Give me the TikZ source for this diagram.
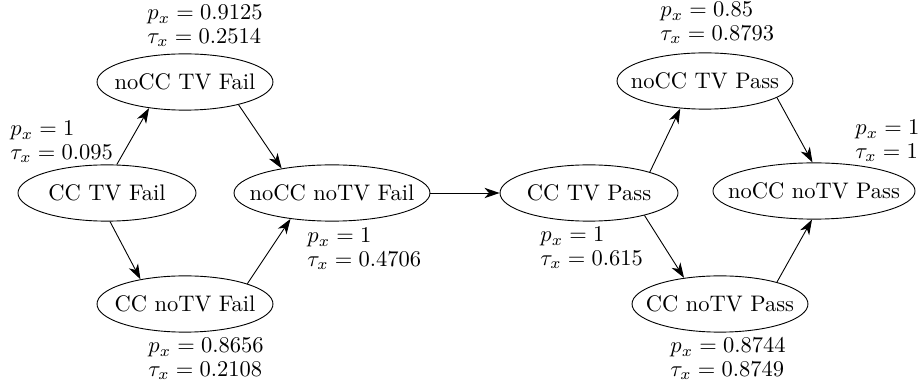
\documentclass[tikz,border=0pt]{standalone}
\usetikzlibrary{shapes.geometric,arrows.meta}
\newcommand\zerobox[1]{\makebox[0pt]{#1}}
\begin{document}
\begin{tikzpicture}[x=0.4444pt,y=-0.4444pt,
  state/.style={ellipse,draw,inner sep=0pt,minimum height=25pt,line width=0.4pt},
  lab/.style={anchor=west,align=left,inner sep=0pt},
  edge/.style={-{Stealth[length=6.7pt,width=4.6pt,inset=2pt]},line width=0.4pt}]
\useasboundingbox (0,0) rectangle (920,388);
% states
\node[state,minimum width=79.1pt] (ctf) at (107,193) {\zerobox{CC TV Fail}};
\node[state,minimum width=78.2pt] (ntf) at (185,82) {\zerobox{noCC TV Fail}};
\node[state,minimum width=78.2pt] (cnf) at (185,304) {\zerobox{CC noTV Fail}};
\node[state,minimum width=87.1pt] (nnf) at (332,193) {\zerobox{noCC noTV Fail}};
\node[state,minimum width=79.1pt] (ctp) at (589,193) {\zerobox{CC TV Pass}};
\node[state,minimum width=78.2pt] (ntp) at (705,81) {\zerobox{noCC TV Pass}};
\node[state,minimum width=89.8pt] (nnp) at (814,191) {\zerobox{noCC noTV Pass}};
\node[state,minimum width=78.2pt] (cnp) at (720,304) {\zerobox{CC noTV Pass}};
% labels
\node[lab] (l1) at (147,26) {$p_x = 0.9125$\\[-1.5pt]$\tau_x = 0.2514$};
\node[lab] (l2) at (10,142) {$p_x = 1$\\[-1.5pt]$\tau_x = 0.095$};
\node[lab] (l3) at (307,249) {$p_x = 1$\\[-1.5pt]$\tau_x = 0.4706$};
\node[lab] (l4) at (148,359) {$p_x = 0.8656$\\[-1.5pt]$\tau_x = 0.2108$};
\node[lab] (l5) at (660,23) {$p_x = 0.85$\\[-1.5pt]$\tau_x = 0.8793$};
\node[lab] (l6) at (855,141) {$p_x = 1$\\[-1.5pt]$\tau_x = 1$};
\node[lab] (l7) at (540,248) {$p_x = 1$\\[-1.5pt]$\tau_x = 0.615$};
\node[lab] (l8) at (670,359) {$p_x = 0.8744$\\[-1.5pt]$\tau_x = 0.8749$};
% edges
\draw[edge] (ctf.71.6) -- (ntf.216.4);
\draw[edge] (ntf.-23.3) -- (nnf.154.3);
\draw[edge] (ctf.276) -- (cnf.151);
\draw[edge] (cnf.18.4) -- (nnf.212.8);
\draw[edge] (nnf.east) -- (ctp.west);
\draw[edge] (ctp.19.8) -- (ntp.228.5);
\draw[edge] (ntp.-13.1) -- (nnp.93.7);
\draw[edge] (ctp.-22.3) -- (cnp.144.6);
\draw[edge] (cnp.21) -- (nnp.266);
\end{tikzpicture}
\end{document}
